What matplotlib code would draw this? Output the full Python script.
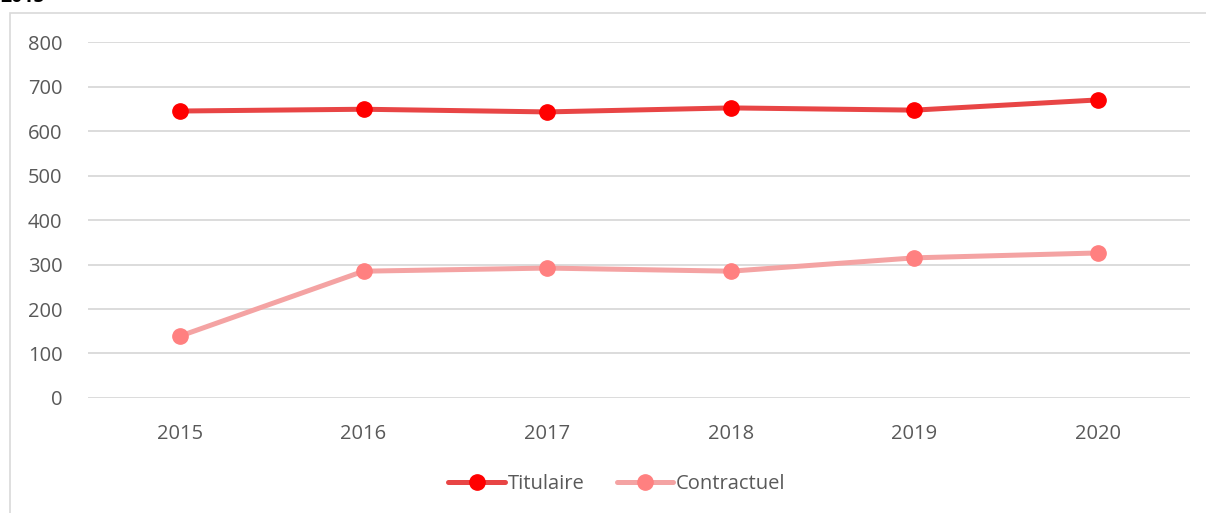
import matplotlib.pyplot as plt
from matplotlib.patches import Rectangle

# data
years = ['2015', '2016', '2017', '2018', '2019', '2020']
titulaire = [645, 649, 643, 652, 647, 670]
contractuel = [139, 285, 292, 285, 315, 326]

plt.rcParams['font.family'] = ['Open Sans', 'DejaVu Sans']

fig = plt.figure(figsize=(12.06, 5.13), dpi=100)
ax = fig.add_axes([0.073, 0.2242, 0.9137, 0.6938])

# outer chart frame (partly outside the picture)
fig.patches.append(Rectangle((10 / 1206, -0.1), 1.2, 1 - 13 / 513 + 0.1,
                             transform=fig.transFigure, fill=False,
                             edgecolor='#d9d9d9', linewidth=1.2, zorder=0))
# cut-off heading at the top
fig.text(0.0, 1.005, '2015', fontsize=14, fontweight='bold', color='black',
         ha='left', va='center')

x = range(len(years))
ax.plot(x, titulaire, color='#e84545', linewidth=3.6, marker='o',
        markersize=11, markerfacecolor='#ff0000', markeredgecolor='#ff0000',
        label='Titulaire', solid_capstyle='round', zorder=3)
ax.plot(x, contractuel, color='#f4a3a3', linewidth=3.6, marker='o',
        markersize=11, markerfacecolor='#ff8080', markeredgecolor='#ff8080',
        label='Contractuel', solid_capstyle='round', zorder=3)

ax.set_xlim(-0.5, len(years) - 0.5)
ax.set_ylim(0, 800)
ax.set_yticks(range(0, 801, 100))
ax.set_xticks(list(x))
ax.set_xticklabels(years)
ax.grid(axis='y', color='#d9d9d9', linewidth=1.3)
ax.set_axisbelow(True)
for s in ax.spines.values():
    s.set_visible(False)
ax.tick_params(length=0, labelsize=14.5, labelcolor='#595959')
ax.tick_params(axis='y', pad=18.5)
ax.tick_params(axis='x', pad=18.5)

ax.legend(loc='center', bbox_to_anchor=(0.48, -0.243), ncol=2, frameon=False,
          fontsize=14.5, labelcolor='#595959', handlelength=2.8,
          columnspacing=1.6, handletextpad=0.15)

fig.savefig('out.png', dpi=100)
